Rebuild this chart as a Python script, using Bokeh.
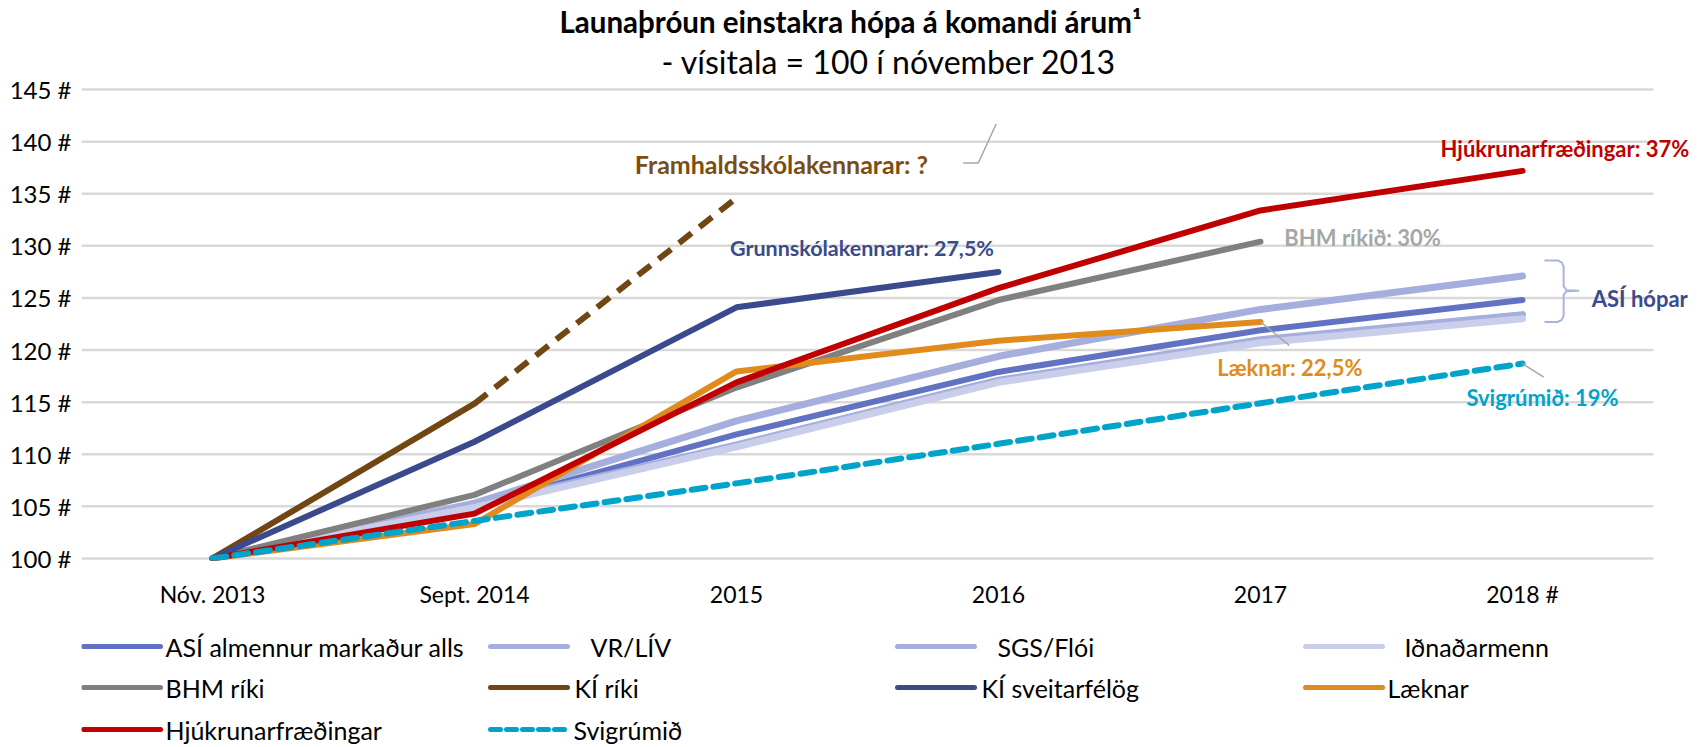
from bokeh.plotting import figure
from bokeh.models import Range1d, FixedTicker, Label, Title
from bokeh.layouts import column
from bokeh.embed import file_html
from bokeh.resources import INLINE
from bokeh.core.properties import value

FONT = "Lato"

# ---------------- data ----------------
categories = ["Nóv. 2013", "Sept. 2014", "2015", "2016", "2017", "2018 #"]
y_ticks = [100, 105, 110, 115, 120, 125, 130, 135, 140, 145]

asi_almennur = [100, 105.0, 111.9, 117.9, 121.9, 124.8]
vr_liv = [100, 105.3, 113.2, 119.4, 123.9, 127.1]
sgs_floi = [100, 105.1, 110.9, 117.1, 121.0, 123.4]
idnadarmenn = [100, 104.9, 110.7, 116.9, 120.7, 123.0]
bhm_riki = [100, 106.1, 116.4, 124.8, 130.4]
ki_riki = [100, 114.85]
framhalds_spa = [114.85, 134.6]          # Sept. 2014 -> 2015 (projection)
ki_sveitarfelog = [100, 111.2, 124.1, 127.5]
laeknar = [100, 103.3, 117.95, 120.9, 122.7]
hjukrunarfr = [100, 104.3, 116.9, 125.95, 133.4, 137.2]
svigrumid = [100, 103.6, 107.2, 111.0, 114.9, 118.7]

series = [
    ("ASÍ almennur markaður alls", asi_almennur, "#6272C3", 6, "solid"),
    ("VR/LÍV", vr_liv, "#A5AEDC", 7, "solid"),
    ("SGS/Flói", sgs_floi, "#A5AEDC", 7, "solid"),
    ("Iðnaðarmenn", idnadarmenn, "#C9CEEB", 7, "solid"),
    ("BHM ríki", bhm_riki, "#808080", 6, "solid"),
    ("KÍ ríki", ki_riki, "#704612", 6, "solid"),
    ("KÍ sveitarfélög", ki_sveitarfelog, "#3A4A8C", 6, "solid"),
    ("Læknar", laeknar, "#E08B1B", 6, "solid"),
    ("Hjúkrunarfræðingar", hjukrunarfr, "#C00000", 6, "solid"),
    ("Svigrúmið", svigrumid, "#00A4CA", 6, "14 8"),
]

# category positions on a numeric axis (centre of each band)
cat_pos = [i + 0.5 for i in range(len(categories))]

# ---------------- main chart ----------------
W = 1699
H1 = 620
H2 = 127
LEFT = 81
UNIT = 262.0                      # pixels per category band
x_end = (W - LEFT) / UNIT

p = figure(x_range=Range1d(0, x_end), y_range=Range1d(99.8, 145.2),
           width=W, height=H1, output_backend="svg", toolbar_location=None,
           min_border_left=LEFT, min_border_right=0, min_border_top=87,
           min_border_bottom=60)
p.outline_line_color = None
p.background_fill_color = "white"
p.border_fill_color = "white"
p.xgrid.visible = False
p.ygrid.visible = False

p.xaxis.ticker = FixedTicker(ticks=cat_pos)
p.xaxis.major_label_overrides = {pos: c for pos, c in zip(cat_pos, categories)}
p.yaxis.ticker = FixedTicker(ticks=y_ticks)
p.yaxis.major_label_overrides = {t: f"{t} #" for t in y_ticks}
for ax in (p.xaxis, p.yaxis):
    ax.axis_line_color = None
    ax.major_tick_line_color = None
    ax.minor_tick_line_color = None
    ax.major_tick_in = 0
    ax.major_tick_out = 0
    ax.major_label_text_font = FONT
    ax.major_label_text_color = "#000000"
p.xaxis.major_label_text_font_size = "23px"
p.yaxis.major_label_text_font_size = "24px"
p.xaxis.major_label_standoff = 19
p.yaxis.major_label_standoff = 10

# horizontal gridlines, limited to the six category bands
n_cat = len(categories)
p.segment(x0=[0] * len(y_ticks), x1=[n_cat] * len(y_ticks), y0=y_ticks, y1=y_ticks,
          line_color="#D9D9D9", line_width=2.5)

# titles
sub = Title(text="- vísitala = 100 í nóvember 2013", align="left", offset=580,
            text_font=FONT, text_font_size="32px", text_font_style="normal",
            text_color="#000000", standoff=13)
p.add_layout(sub, "above")
main = Title(text="Launaþróun einstakra hópa á komandi árum¹", align="left", offset=478,
             text_font=FONT, text_font_size="29.5px", text_font_style="bold",
             text_color="#000000", standoff=-10)
p.add_layout(main, "above")

# series lines
for name, vals, color, lw, dash in series:
    p.line(cat_pos[:len(vals)], vals, line_color=color, line_width=lw,
           line_dash=dash, line_cap="round", line_join="round")

# projection for framhaldsskólakennarar (dashed brown)
p.line(cat_pos[1:3], framhalds_spa, line_color="#704612", line_width=6,
       line_dash="16 10", line_join="round")

# leader lines / brace
lead_color = "#A6A6A6"
p.line([3.365, 3.423, 3.491], [137.95, 137.95, 141.7], line_color=lead_color, line_width=1.5)
p.line([cat_pos[4], 4.61], [laeknar[-1], 120.45], line_color=lead_color, line_width=1.5)
p.line([cat_pos[5], 5.581], [svigrumid[-1], 117.4], line_color=lead_color, line_width=1.5)

brace_x = [5.584, 5.635, 5.650, 5.657, 5.657, 5.668, 5.714, 5.668, 5.657, 5.657, 5.650, 5.635, 5.584]
brace_y = [128.6, 128.6, 128.4, 128.0, 126.1, 125.75, 125.7, 125.65, 125.3, 123.3, 122.9, 122.7, 122.7]
p.line(brace_x, brace_y, line_color="#A9B3DE", line_width=2, line_join="round")

# annotation texts
annots = [
    ("Framhaldsskólakennarar: ?", 2.112, 137.85, "#7A4E12", "25px"),
    ("Grunnskólakennarar: 27,5%", 2.475, 129.8, "#3A4A8C", "21.5px"),
    ("BHM ríkið: 30%", 4.591, 130.8, "#A6A6A6", "22px"),
    ("Hjúkrunarfræðingar: 37%", 5.187, 139.3, "#C00000", "22px"),
    ("ASÍ hópar", 5.764, 124.94, "#3A4A8C", "22px"),
    ("Læknar: 22,5%", 4.335, 118.3, "#E08B1B", "22px"),
    ("Svigrúmið: 19%", 5.286, 115.46, "#00A4CA", "22px"),
]
for txt, x, y, c, fs in annots:
    p.add_layout(Label(x=x, y=y, text=txt, text_font=FONT, text_font_size=fs,
                       text_font_style="bold", text_color=c, text_baseline="middle",
                       text_align="left"))

# ---------------- legend figure ----------------
q = figure(x_range=Range1d(LEFT, W), y_range=Range1d(H2, 0), width=W, height=H2,
           output_backend="svg", toolbar_location=None,
           x_axis_location=None, y_axis_location=None,
           min_border_left=LEFT, min_border_right=0,
           min_border_top=0, min_border_bottom=0)
q.outline_line_color = None
q.grid.visible = False

col_x = [83, 490, 897, 1305]
row_y = [26, 67, 109]
text_gap = [[5, 23, 23, 22], [5, 7, 7, 5], [5, 6]]
line_len = 77
for i, (name, vals, color, lw, dash) in enumerate(series):
    r, c = divmod(i, 4)
    x0 = col_x[c]
    y0 = row_y[r]
    ldash = "10 6" if dash != "solid" else "solid"
    q.line([x0, x0 + line_len], [y0, y0], line_color=color, line_width=5,
           line_cap="round", line_dash=ldash)
    q.text([x0 + line_len + text_gap[r][c]], [y0], text=[name],
           text_font=value(FONT), text_font_size="25px", text_color="#000000",
           text_baseline="middle", text_align="left")

layout = column(p, q, spacing=0)
open("out.html", "w").write(file_html(layout, INLINE))
